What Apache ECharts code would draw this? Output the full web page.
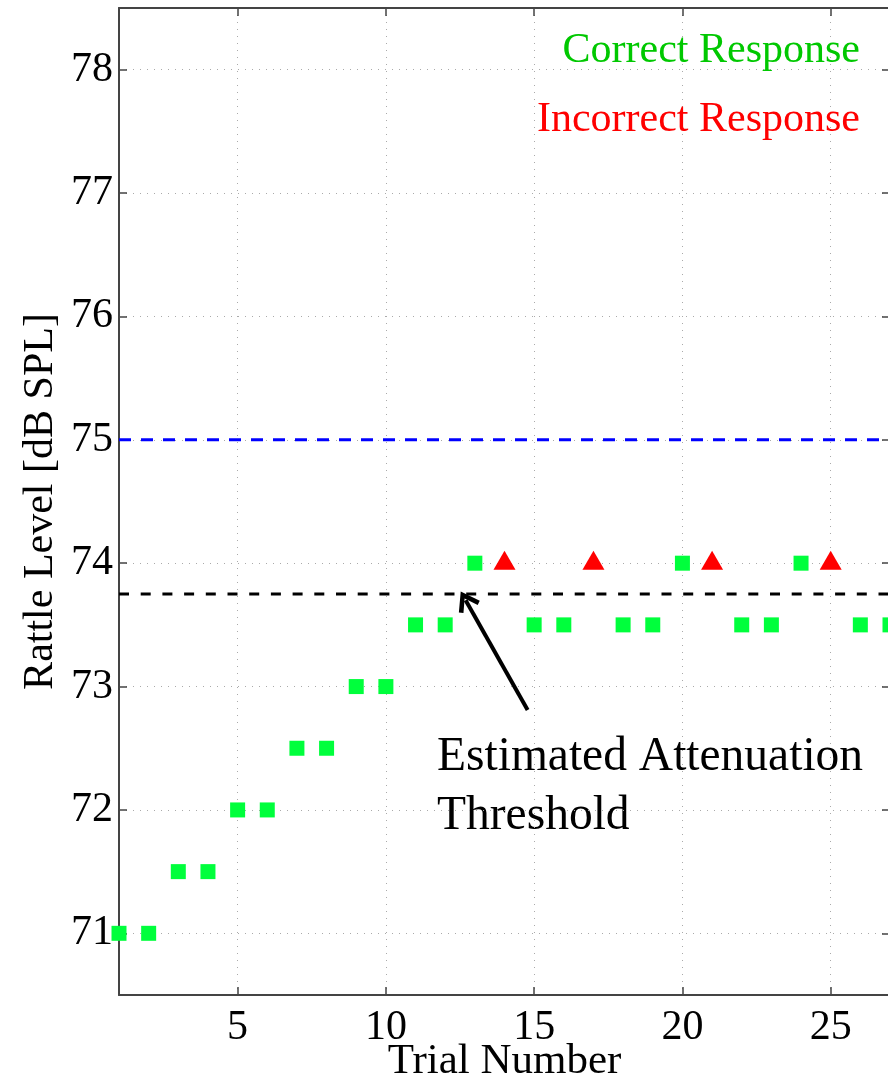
<!DOCTYPE html>
<html>
<head>
<meta charset="utf-8">
<style>
  html, body { margin: 0; padding: 0; background: #fff; }
  #main { width: 888px; height: 1081px; }
</style>
<script src="https://cdn.jsdelivr.net/npm/echarts@6/dist/echarts.min.js"></script>
</head>
<body>
<div id="main"></div>
<script>
"use strict";

// trial data
const correctTrials = [1, 2, 3, 4, 5, 6, 7, 8, 9, 10, 11, 12, 13, 15, 16, 18, 19, 20, 22, 23, 24, 26, 27];
const correctLevels = [71, 71, 71.5, 71.5, 72, 72, 72.5, 72.5, 73, 73, 73.5, 73.5, 74, 73.5, 73.5, 73.5, 73.5, 74, 73.5, 73.5, 74, 73.5, 73.5];
const incorrectTrials = [14, 17, 21, 25];
const incorrectLevels = [74, 74, 74, 74];

const xTicks = [5, 10, 15, 20, 25];
const yTicks = [71, 72, 73, 74, 75, 76, 77, 78];

const referenceLevel = 75;
const thresholdLevel = 73.75;
const trialRange = [1, 27];

// annotation arrow (tail, head) in data units
const arrowTail = [14.78, 72.81];
const arrowHead = [12.69, 73.7];

const FONT = "Liberation Serif";
const AXIS_COLOR = "#444";

let chartDom = document.getElementById("main");
let myChart = echarts.init(chartDom);

const zip = (xs, ys) => xs.map((x, i) => [x, ys[i]]);

const frameAxis = {
  axisLine: { show: true, onZero: false, lineStyle: { color: AXIS_COLOR, width: 2 } },
  axisTick: { show: true, inside: true, length: 8, lineStyle: { color: AXIS_COLOR, width: 1.5 } },
};

let option = {
  animation: false,
  grid: {
    left: 119,
    right: -2,
    top: 8,
    bottom: 86,
    containLabel: false,
    outerBoundsMode: "none",
  },
  legend: {
    orient: "vertical",
    right: 18,
    top: 25,
    align: "right",
    itemGap: 27,
    itemWidth: 0,
    selectedMode: false,
    textStyle: { fontFamily: FONT, fontSize: 42 },
    data: [
      { name: "Correct Response", icon: "none", textStyle: { color: "#00c800" } },
      { name: "Incorrect Response", icon: "none", textStyle: { color: "#ff0000" } },
    ],
  },
  graphic: [
    {
      type: "text",
      left: 437,
      top: 728,
      style: {
        text: "Estimated Attenuation\nThreshold",
        font: "47.5px " + FONT,
        lineHeight: 59,
        fill: "#000",
      },
    },
  ],
  xAxis: [
    {
      type: "value",
      min: trialRange[0],
      max: trialRange[1],
      name: "Trial Number",
      nameLocation: "middle",
      nameGap: 45,
      nameMoveOverlap: false,
      nameTextStyle: { fontFamily: FONT, fontSize: 43, color: "#000" },
      ...frameAxis,
      axisTick: { ...frameAxis.axisTick, customValues: xTicks },
      axisLabel: {
        customValues: xTicks,
        margin: 12,
        fontFamily: FONT,
        fontSize: 42,
        color: "#000",
      },
      splitLine: { show: true, lineStyle: { color: "#aaa", type: [1, 6], width: 1 } },
    },
    {
      type: "value",
      position: "top",
      min: trialRange[0],
      max: trialRange[1],
      ...frameAxis,
      axisTick: { ...frameAxis.axisTick, customValues: xTicks },
      axisLabel: { show: false },
      splitLine: { show: false },
    },
  ],
  yAxis: [
    {
      type: "value",
      min: 70.5,
      max: 78.5,
      name: "Rattle Level [dB SPL]",
      nameLocation: "middle",
      nameGap: 57,
      nameMoveOverlap: false,
      nameTextStyle: { fontFamily: FONT, fontSize: 42, color: "#000" },
      ...frameAxis,
      axisTick: { ...frameAxis.axisTick, customValues: yTicks },
      axisLabel: {
        customValues: yTicks,
        margin: 6,
        fontFamily: FONT,
        fontSize: 42,
        color: "#000",
      },
      splitLine: { show: true, lineStyle: { color: "#aaa", type: [1, 6], width: 1 } },
    },
    {
      type: "value",
      position: "right",
      min: 70.5,
      max: 78.5,
      ...frameAxis,
      axisTick: { ...frameAxis.axisTick, customValues: yTicks },
      axisLabel: { show: false },
      splitLine: { show: false },
    },
  ],
  series: [
    {
      name: "Reference Level",
      type: "line",
      data: trialRange.map((t) => [t, referenceLevel]),
      symbol: "none",
      silent: true,
      lineStyle: { color: "#0000ff", width: 3, type: [12, 10] },
    },
    {
      name: "Threshold",
      type: "line",
      data: trialRange.map((t) => [t, thresholdLevel]),
      symbol: "none",
      silent: true,
      lineStyle: { color: "#000", width: 3, type: [10, 11.7] },
      markLine: {
        silent: true,
        symbol: ["none", "path://M5,0 L10,7.5 L8.4,8.6 L5,3.4 L1.6,8.6 L0,7.5 Z"],
        symbolSize: [24, 20],
        label: { show: false },
        lineStyle: { color: "#000", width: 4, type: "solid" },
        data: [[{ coord: arrowTail }, { coord: arrowHead }]],
      },
    },
    {
      name: "Correct Response",
      type: "scatter",
      data: zip(correctTrials, correctLevels),
      symbol: "rect",
      symbolSize: 15,
      itemStyle: { color: "#00ff3c", opacity: 1 },
    },
    {
      name: "Incorrect Response",
      type: "scatter",
      data: zip(incorrectTrials, incorrectLevels),
      symbol: "triangle",
      symbolSize: [22, 19],
      symbolOffset: [0, -3],
      itemStyle: { color: "#ff0000", opacity: 1 },
    },
  ],
};

option && myChart.setOption(option);
</script>
</body>
</html>
